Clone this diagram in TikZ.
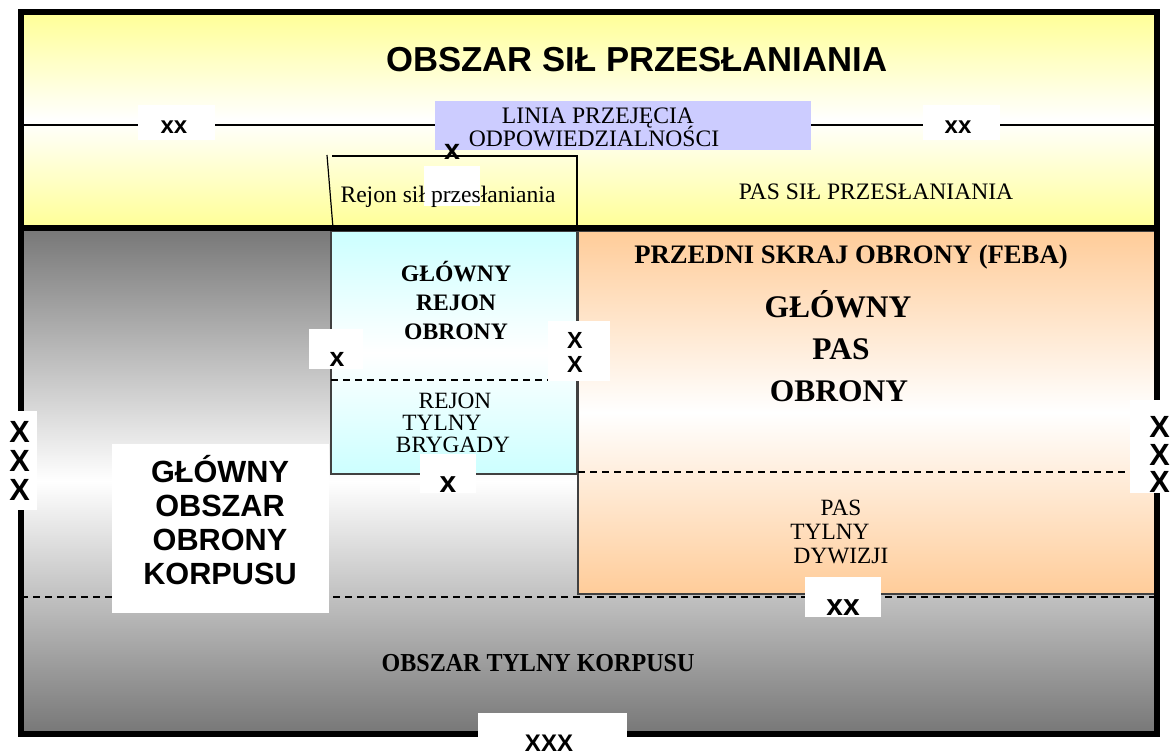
\documentclass[tikz,border=0pt]{standalone}
\usepackage{fontspec}
\setmainfont{Liberation Serif}
\newfontfamily\arialf{Liberation Sans}
\newcommand{\myfs}[2]{\fontsize{#1}{#2}\selectfont}
\definecolor{yel}{RGB}{255,255,150}
\definecolor{cyn}{RGB}{204,255,255}
\definecolor{org}{RGB}{255,204,153}
\definecolor{gry}{RGB}{119,119,119}
\definecolor{lav}{RGB}{204,204,255}
\tikzset{
  lbl/.style={inner sep=0pt, anchor=base},
  wbox/.style={fill=white},
  dline/.style={line width=1.1pt, dash pattern=on 5.25pt off 3.75pt},
  thinline/.style={line width=0.9pt},
  boxline/.style={line width=0.9pt, draw=black!75},
  frame/.style={line width=4.5pt},
  sfb/.style={font=\arialf\bfseries\myfs{#1}{#1}},
  rmr/.style={font=\myfs{#1}{#1}},
  rmb/.style={font=\bfseries\myfs{#1}{#1}},
}
\begin{document}
\begin{tikzpicture}[x=0.75pt,y=-0.75pt]
\useasboundingbox (0,0) rectangle (1171,755);
% backgrounds
\shade[top color=yel,bottom color=yel,middle color=white] (21,12) rectangle (1157,228);
\shade[top color=gry,bottom color=gry,middle color=white] (21,228) rectangle (1157,734);
\shade[top color=cyn,bottom color=cyn,middle color=white] (331,231) rectangle (577,474);
\shade[top color=org,bottom color=org,middle color=white] (578,231) rectangle (1157,594);
\draw[boxline] (331,231) rectangle (577,474);
\draw[boxline] (578,231) rectangle (1157,594);
% lines in the yellow band
\draw[thinline] (21,125) -- (1157,125);
\fill[lav] (435,101) rectangle (811,150);
\draw[thinline] (327,155) -- (333,228);
\draw[thinline] (332,156) -- (577,156) -- (577,228);
% dashed lines
\draw[dline] (331,380) -- (548,380);
\draw[dline] (578,472) -- (1130,472);
\draw[dline] (21,597) -- (1157,597);
% frame
\draw[frame] (21,12.5) rectangle (1157,734);
\draw[frame] (21,228) -- (1157,228);
% white boxes
\fill[wbox] (138,105) rectangle (215,140);
\fill[wbox] (923,105) rectangle (1000,140);
\fill[wbox] (424,166) rectangle (480,206);
\fill[wbox] (309,329) rectangle (363,369);
\fill[wbox] (548,321) rectangle (610,381);
\fill[wbox] (420,454) rectangle (476,493);
\fill[wbox] (112,444) rectangle (329,613);
\fill[wbox] (0,411) rectangle (37,510);
\fill[wbox] (1130,400) rectangle (1171,493);
\fill[wbox] (805,577) rectangle (881,617);
\fill[wbox] (478,713) rectangle (627,755);
% texts: yellow band
\node[lbl, sfb=26] (title) at (637,72) {OBSZAR SIŁ PRZESŁANIANIA};
\node[lbl, rmr=17.7] (linia1) at (598,123.5) {LINIA PRZEJĘCIA};
\node[lbl, rmr=17.7] (linia2) at (594,146.5) {ODPOWIEDZIALNOŚCI};
\node[lbl, sfb=18] (xxl) at (174,133.5) {xx};
\node[lbl, sfb=18] (xxr) at (958,133.5) {xx};
\node[lbl, sfb=21.5] (xtop) at (452,160) {x};
\node[lbl, rmr=17.7] (rejonsil) at (448,203) {Rejon sił przesłaniania};
\node[lbl, rmr=17.7] (passil) at (876,200) {PAS SIŁ PRZESŁANIANIA};
% cyan box
\node[lbl, rmb=17.7] (gro1) at (456,282) {GŁÓWNY};
\node[lbl, rmb=17.7] (gro2) at (456,311) {REJON};
\node[lbl, rmb=17.7] (gro3) at (456,340) {OBRONY};
\node[lbl, rmr=17.5] (rtb1) at (455,409) {REJON};
\node[lbl, rmr=17.5] (rtb2) at (442,431) {TYLNY};
\node[lbl, rmr=17.5] (rtb3) at (453,453) {BRYGADY};
\node[lbl, sfb=20] (xleft) at (337,367) {x};
\node[lbl, sfb=17.5] (xx1) at (575,349) {X};
\node[lbl, sfb=17.5] (xx2) at (575,373) {X};
\node[lbl, sfb=22.5] (xbot) at (448,492) {x};
% orange box
\node[lbl, rmb=20] (feba) at (851,264) {PRZEDNI SKRAJ OBRONY (FEBA)};
\node[lbl, rmb=23.6] (gpo1) at (838,318) {GŁÓWNY};
\node[lbl, rmb=23.6] (gpo2) at (841,360) {PAS};
\node[lbl, rmb=23.6] (gpo3) at (839,402) {OBRONY};
\node[lbl, rmr=17.5] (ptd1) at (841,515) {PAS};
\node[lbl, rmr=17.5] (ptd2) at (830,539) {TYLNY};
\node[lbl, rmr=17.5] (ptd3) at (841,563) {DYWIZJI};
\node[lbl, sfb=22.5] (xxbot) at (843,615) {xx};
% left side
\node[lbl, sfb=23] (goo1) at (220,482) {GŁÓWNY};
\node[lbl, sfb=23] (goo2) at (220,516) {OBSZAR};
\node[lbl, sfb=23] (goo3) at (220,550) {OBRONY};
\node[lbl, sfb=23] (goo4) at (220,584) {KORPUSU};
\node[lbl, sfb=23] (xl1) at (19.5,442) {X};
\node[lbl, sfb=23] (xl2) at (19.5,471) {X};
\node[lbl, sfb=23] (xl3) at (19.5,500) {X};
\node[lbl, sfb=23] (xr1) at (1159.5,437) {X};
\node[lbl, sfb=23] (xr2) at (1159.5,465) {X};
\node[lbl, sfb=23] (xr3) at (1159.5,493) {X};
% bottom
\node[lbl, rmb=19.4] (otk) at (538,671) {\scalebox{0.93}[1]{OBSZAR TYLNY KORPUSU}};
\node[lbl, sfb=18] (xxx) at (549,751) {XXX};
\end{tikzpicture}
\end{document}
